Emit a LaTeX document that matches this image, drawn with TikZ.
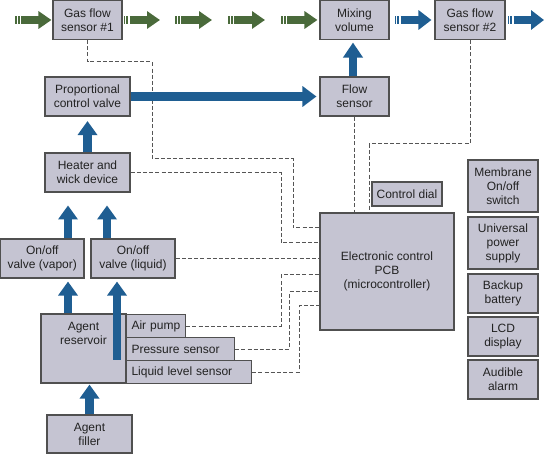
\documentclass[tikz,border=0pt]{standalone}
\usepackage{fontspec}
\setmainfont{Liberation Sans}
\usetikzlibrary{arrows.meta,calc}
\definecolor{boxfill}{HTML}{C5C4D2}
\definecolor{boxline}{HTML}{505050}
\definecolor{pblue}{HTML}{1F5E92}
\definecolor{pgreen}{HTML}{4A6A3B}
\definecolor{dashc}{HTML}{555555}
\definecolor{txt}{HTML}{222222}
% striped horizontal arrow: colour, start, end, head width
\newcommand\stripearrow[4]{%
  \path #2 coordinate (sa) #3 coordinate (sb);
  \fill[#1] ($(sa)+(0,-4)$) rectangle ($(sa)+(1.5,4)$);
  \fill[#1] ($(sa)+(2.8,-4)$) rectangle ($(sa)+(4.8,4)$);
  \draw[#1, line width=8pt, -{Triangle[length=13pt,width=#4]}] ($(sa)+(6,0)$) -- (sb);
}
\begin{document}
\begin{tikzpicture}[x=1pt,y=-1pt,
  boxbase/.style={draw=boxline, fill=boxfill, line width=1.1pt, inner sep=0pt,
    text=txt, font=\fontsize{12}{14}\selectfont},
  box/.style 2 args={boxbase, align=center, minimum width=#1, minimum height=#2},
  sens/.style={boxbase, anchor=north west, text width=#1, align=left,
    inner xsep=5pt, minimum height=23},
  dsh/.style={draw=dashc, line width=1pt, dash pattern=on 4pt off 2.2pt},
  barrow/.style={draw=pblue, line width=8.5pt, -{Triangle[length=14pt,width=19pt]}}]
\useasboundingbox[fill=white] (0,0) rectangle (544,454);

% top row
\node[box={69}{39}] (gfs1) at (87.5,20) {Gas flow\\sensor \#1};
\node[box={69}{39}] (mix) at (354.5,20) {Mixing\\volume};
\node[box={70}{39}] (gfs2) at (470,20) {Gas flow\\sensor \#2};
% second row
\node[box={85}{39}] (prop) at (87.5,96.5) {Proportional\\control valve};
\node[box={69}{39}] (flow) at (354.5,96.5) {Flow\\sensor};
\node[box={85}{39}] (heater) at (87.5,172.5) {Heater and\\wick device};
% valves
\node[box={83.5}{39}] (vapor) at (42.25,258.5) {On/off\\valve (vapor)};
\node[box={84}{39}] (liquid) at (133,258.5) {On/off\\valve (liquid)};
% reservoir and sensors
\node[box={85}{69}, label={[text=txt, font=\fontsize{12}{14}\selectfont, align=center,
  anchor=north, inner sep=0pt, yshift=-8.5pt]north:Agent\\reservoir}] (res) at (83.5,348.5) {};
\node[sens=49] (pump) at (126,314) {Air pump};
\node[sens=98] (press) at (126,337) {Pressure sensor};
\node[sens=115] (level) at (126,360) {Liquid level sensor};
\node[box={85}{38}] (filler) at (89.5,434) {Agent\\filler};
% control
\node[box={70}{24}] (dial) at (407,194) {Control dial};
\node[box={134}{117}] (pcb) at (387,271.5) {Electronic control\\PCB\\(microcontroller)};
% right column
\node[box={70}{52}] (memb) at (503,186) {Membrane\\On/off\\switch};
\node[box={70}{52}] (ups) at (503,243) {Universal\\power\\supply};
\node[box={70}{39}] (batt) at (503,293.5) {Backup\\battery};
\node[box={70}{39}] (lcd) at (503,336.5) {LCD\\display};
\node[box={70}{39}] (alarm) at (503,379.5) {Audible\\alarm};

% dashed signal lines
\draw[dsh] (gfs1.south) |- (152,62) |- (293,159) |- (pcb.west |- 0,228);
\draw[dsh] (heater.east) -| (281,243) -- (pcb.west |- 0,243);
\draw[dsh] (flow.south) -- (flow.south |- pcb.north);
\draw[dsh] (gfs2.south) |- (369,144) -- (pcb.north -| 369,0);
\draw[dsh] (liquid.east) -- (pcb.west |- liquid.east);
\draw[dsh] (pump.east) -| (281,275) -- (pcb.west |- 0,275);
\draw[dsh] (press.east) -| (289,292) -- (pcb.west |- 0,292);
\draw[dsh] (level.east) -| (299,306) -- (pcb.west |- 0,306);

% gas flow arrows (top row)
\coordinate (gin) at (15,20);
\coordinate (g2e) at (160,20);
\coordinate (g3s) at (175,20);
\coordinate (g3e) at (212,20);
\coordinate (g4s) at (228,20);
\coordinate (g4e) at (265,20);
\coordinate (g5s) at (281,20);
\coordinate (gout) at (544,20);
\stripearrow{pgreen}{(gin)}{([xshift=-1pt]gfs1.west)}{17pt}
\stripearrow{pgreen}{([xshift=1pt]gfs1.east)}{(g2e)}{17pt}
\stripearrow{pgreen}{(g3s)}{(g3e)}{17pt}
\stripearrow{pgreen}{(g4s)}{(g4e)}{17pt}
\stripearrow{pgreen}{(g5s)}{([xshift=-2pt]mix.west)}{17pt}
\stripearrow{pblue}{([xshift=5pt]mix.east)}{([xshift=-3pt]gfs2.west)}{19pt}
\stripearrow{pblue}{([xshift=2pt]gfs2.east)}{(gout)}{19pt}

% agent flow arrows
\draw[barrow] (heater.north) -- ([yshift=-4.5pt]prop.south);
\draw[barrow, -{Triangle[length=15pt,width=19pt]}] (flow.north -| 353,0) -- ($(mix.south -| 353,0)+(0,2.5)$);
\draw[barrow, -{Triangle[length=14pt,width=20pt]}] (prop.east) -- ($(flow.west)+(-3,0)$);
\draw[barrow] (vapor.north -| 68,0) -- ++(0,-33);
\draw[barrow] (liquid.north -| 107,0) -- ++(0,-33);
\draw[barrow] (res.north -| 68,0) -- ($(vapor.south -| 68,0)+(0,3)$);
\coordinate (lqs) at (117,360);
\draw[barrow] (lqs) -- ($(liquid.south -| 117,0)+(0,3)$);
\draw[barrow] (filler.north) -- ($(res.south -| filler.north)+(0,1)$);
\end{tikzpicture}
\end{document}
